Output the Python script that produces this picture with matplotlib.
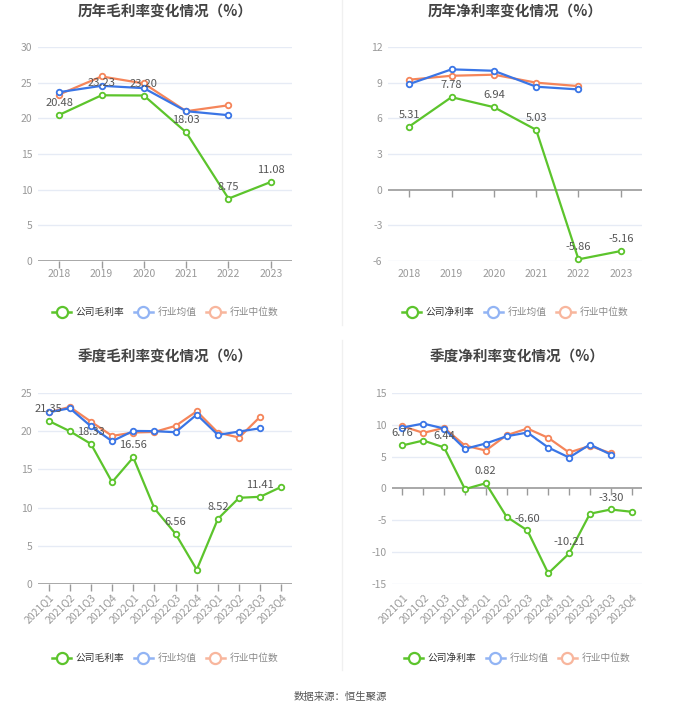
import matplotlib
matplotlib.use("Agg")
import matplotlib.pyplot as plt
from matplotlib.lines import Line2D

plt.rcParams['font.family'] = ['Noto Sans CJK SC', 'DejaVu Sans']

GREEN = "#5cc42c"
BLUE = "#3a75e6"
ORANGE = "#f5855a"
BLUE_L = "#92b4f4"
ORANGE_L = "#f8b69d"
GRID = "#e6ebf5"
AXIS = "#9a9a9a"
TICK_TXT = "#999999"

years = ["2018", "2019", "2020", "2021", "2022", "2023"]
quarters = ["2021Q1", "2021Q2", "2021Q3", "2021Q4", "2022Q1", "2022Q2",
            "2022Q3", "2022Q4", "2023Q1", "2023Q2", "2023Q3", "2023Q4"]

# annual gross margin
gross_y_company = [20.48, 23.23, 23.20, 18.03, 8.75, 11.08]
gross_y_avg = [23.67, 24.56, 24.23, 21.0, 20.44]
gross_y_median = [23.34, 25.87, 24.89, 21.0, 21.83]

# annual net margin
net_y_company = [5.31, 7.78, 6.94, 5.03, -5.86, -5.16]
net_y_avg = [8.88, 10.12, 10.0, 8.66, 8.43]
net_y_median = [9.25, 9.58, 9.67, 9.0, 8.71]

# quarterly gross margin
gross_q_company = [21.35, 20.0, 18.33, 13.33, 16.56, 9.89, 6.56, 1.87, 8.52, 11.28, 11.41, 12.72]
gross_q_avg = [22.47, 23.0, 20.64, 18.68, 20.03, 20.0, 19.86, 22.17, 19.51, 19.95, 20.38]
gross_q_median = [22.47, 23.17, 21.25, 19.38, 19.82, 19.9, 20.69, 22.6, 19.82, 19.16, 21.9]

# quarterly net margin
net_q_company = [6.76, 7.53, 6.44, -0.1, 0.82, -4.44, -6.60, -13.33, -10.21, -3.97, -3.30, -3.66]
net_q_avg = [9.57, 10.19, 9.41, 6.22, 7.06, 8.2, 8.78, 6.43, 4.86, 6.9, 5.33]
net_q_median = [9.78, 8.73, 9.51, 6.74, 5.96, 8.36, 9.41, 7.95, 5.65, 6.69, 5.54]


def draw_panel(ax, cats, company, avg, median, yticks, label_every, rotate):
    n = len(cats)
    xs = list(range(n))
    ax.set_xlim(-0.5, n - 0.5)
    ax.set_ylim(yticks[0], yticks[-1])
    ax.set_yticks(yticks)
    ax.set_yticklabels([str(t) for t in yticks])
    for t in yticks:
        if t != 0:
            ax.axhline(t, color=GRID, lw=1, zorder=0)
    for s in ax.spines.values():
        s.set_visible(False)
    ax.axhline(0, color=AXIS, lw=1.2, zorder=1)
    ax.plot(xs, [0] * n, ls="", marker=3, markersize=5, color=AXIS,
            markeredgewidth=1, zorder=1, clip_on=False)
    ax.tick_params(axis="y", length=0, labelsize=7.5, labelcolor=TICK_TXT, pad=4)
    ax.set_xticks(xs)
    if rotate:
        ax.set_xticklabels(cats, rotation=45, ha="right", rotation_mode="anchor")
    else:
        ax.set_xticklabels(cats)
    ax.tick_params(axis="x", length=0, labelsize=7.5, labelcolor=TICK_TXT, pad=6)

    kw = dict(marker="o", markersize=4, markerfacecolor="white",
              markeredgewidth=1.3, lw=1.6, clip_on=False)
    ax.plot(range(len(median)), median, color=ORANGE, zorder=3, **kw)
    ax.plot(range(len(avg)), avg, color=BLUE, zorder=4, **kw)
    ax.plot(xs, company, color=GREEN, zorder=5, **kw)
    for i, v in enumerate(company):
        if i % label_every == 0:
            ax.annotate(f"{v:.2f}", (i, v), xytext=(0, 5), textcoords="offset points",
                        ha="center", va="bottom", fontsize=8, color="#555555", zorder=6)


def add_legend(fig, ax, y, first):
    box = ax.get_position()
    handles = [
        Line2D([], [], color=GREEN, lw=1.8, marker="o", markersize=8,
               markerfacecolor="white", markeredgewidth=1.6),
        Line2D([], [], color=BLUE_L, lw=1.8, marker="o", markersize=8,
               markerfacecolor="white", markeredgewidth=1.6),
        Line2D([], [], color=ORANGE_L, lw=1.8, marker="o", markersize=8,
               markerfacecolor="white", markeredgewidth=1.6),
    ]
    leg = fig.legend(handles, [first, "行业均值", "行业中位数"], loc="center",
                     bbox_to_anchor=((box.x0 + box.x1) / 2, y), ncol=3, frameon=False,
                     fontsize=7, handlelength=2.0, handletextpad=0.45, columnspacing=0.95)
    cols = ["#333333", "#888888", "#888888"]
    for t, c in zip(leg.get_texts(), cols):
        t.set_color(c)


fig = plt.figure(figsize=(6.8, 7.12), dpi=100)
ax1 = fig.add_axes([0.0559, 0.6334, 0.3735, 0.3006])
ax2 = fig.add_axes([0.5706, 0.6334, 0.3735, 0.3006])
ax3 = fig.add_axes([0.0559, 0.1798, 0.3735, 0.2683])
ax4 = fig.add_axes([0.5765, 0.1798, 0.3676, 0.2683])

draw_panel(ax1, years, gross_y_company, gross_y_avg, gross_y_median,
           [0, 5, 10, 15, 20, 25, 30], 1, False)
draw_panel(ax2, years, net_y_company, net_y_avg, net_y_median,
           [-6, -3, 0, 3, 6, 9, 12], 1, False)
draw_panel(ax3, quarters, gross_q_company, gross_q_avg, gross_q_median,
           [0, 5, 10, 15, 20, 25], 2, True)
draw_panel(ax4, quarters, net_q_company, net_q_avg, net_q_median,
           [-15, -10, -5, 0, 5, 10, 15], 2, True)

titles = [(ax1, "历年毛利率变化情况（%）", 1 - 12 / 712),
          (ax2, "历年净利率变化情况（%）", 1 - 12 / 712),
          (ax3, "季度毛利率变化情况（%）", 1 - 357 / 712),
          (ax4, "季度净利率变化情况（%）", 1 - 357 / 712)]
for ax, t, y in titles:
    b = ax.get_position()
    fig.text((b.x0 + b.x1) / 2, y, t, ha="center", va="center",
             fontsize=10.5, fontweight="bold", color="#444444")

add_legend(fig, ax1, 1 - 312 / 712, "公司毛利率")
add_legend(fig, ax2, 1 - 312 / 712, "公司净利率")
add_legend(fig, ax3, 1 - 658 / 712, "公司毛利率")
add_legend(fig, ax4, 1 - 658 / 712, "公司净利率")

# faint divider between left and right columns
fig.add_artist(Line2D([0.503, 0.503], [1 - 325 / 712, 1.0], color="#f0f0f0", lw=1))
fig.add_artist(Line2D([0.503, 0.503], [1 - 670 / 712, 1 - 340 / 712], color="#f0f0f0", lw=1))

fig.text(0.5, 1 - 697 / 712, "数据来源：恒生聚源", ha="center", va="center",
         fontsize=7.5, color="#555555")

fig.savefig("out.png", dpi=100, facecolor="white")
